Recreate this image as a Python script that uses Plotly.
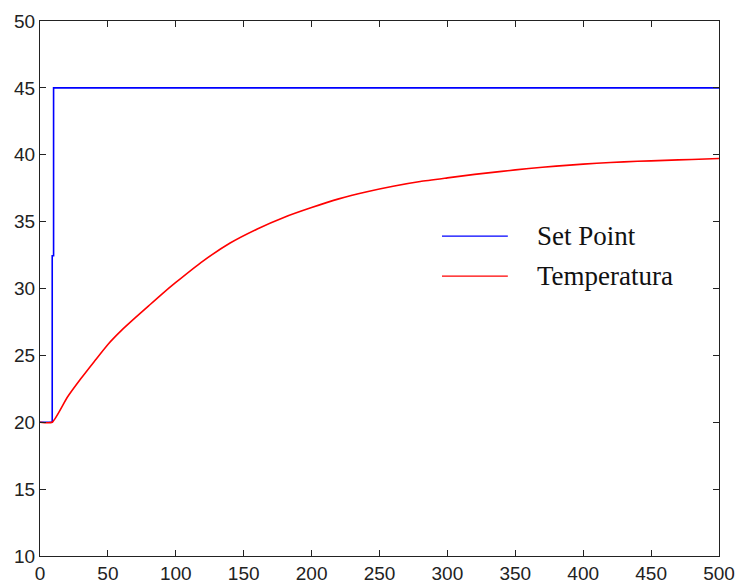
import plotly.graph_objects as go

# Set Point series
sp_t = [0, 9, 9, 10, 10, 500]
sp_v = [20, 20, 32.45, 32.45, 45, 45]

# Temperature series
temp_t = [0, 9, 20, 30, 40, 50, 60, 70, 80, 90, 100, 120, 140, 160, 180, 200,
          220, 240, 260, 280, 300, 320, 340, 360, 380, 400, 420, 440, 460, 480, 500]
temp_v = [20, 20, 21.85, 23.25, 24.55, 25.82, 26.87, 27.8, 28.7, 29.6, 30.45, 32.05,
          33.4, 34.45, 35.33, 36.05, 36.7, 37.22, 37.65, 38.0, 38.27, 38.53, 38.76,
          38.97, 39.15, 39.3, 39.42, 39.51, 39.58, 39.65, 39.72]

x_ticks = list(range(0, 501, 50))
y_ticks = list(range(10, 51, 5))

legend_names = ["Set Point", "Temperatura"]
colors = ["#0000FF", "#FF0000"]

fig = go.Figure()
fig.add_trace(go.Scatter(x=sp_t, y=sp_v, mode="lines", name=legend_names[0],
                         line=dict(color=colors[0], width=1.6)))
fig.add_trace(go.Scatter(x=temp_t, y=temp_v, mode="lines", name=legend_names[1],
                         line=dict(color=colors[1], width=1.6, shape="spline", smoothing=0.5)))

axis_common = dict(showline=True, linecolor="#222", linewidth=1.2, mirror="ticks",
                   ticks="inside", ticklen=6, tickcolor="#222", tickwidth=1.2,
                   showgrid=False, zeroline=False, automargin=False,
                   tickfont=dict(family="Liberation Sans, Arial", size=19, color="#222"))

fig.update_layout(
    width=736, height=584,
    margin=dict(l=40, r=17, t=21, b=28),
    paper_bgcolor="white", plot_bgcolor="white",
    showlegend=False,
    xaxis=dict(range=[0, 500], tickvals=x_ticks, ticktext=[str(v) for v in x_ticks], **axis_common),
    yaxis=dict(range=[10, 50], tickvals=y_ticks, ticktext=[str(v) for v in y_ticks], **axis_common),
)

# Manual legend (no border)
leg_y = [0.598, 0.523]
for name, col, yy in zip(legend_names, colors, leg_y):
    fig.add_shape(type="line", xref="paper", yref="paper", x0=0.592, x1=0.689, y0=yy, y1=yy,
                  line=dict(color=col, width=1.3))
    fig.add_annotation(xref="paper", yref="paper", x=0.729, y=yy, text=name, showarrow=False,
                       xanchor="left", yanchor="middle",
                       font=dict(family="Liberation Serif, Times New Roman", size=27, color="#111"))

fig.write_html("out.html", config={"displayModeBar": False},
               post_script="document.body.style.margin='0';document.body.style.overflow='hidden';")
